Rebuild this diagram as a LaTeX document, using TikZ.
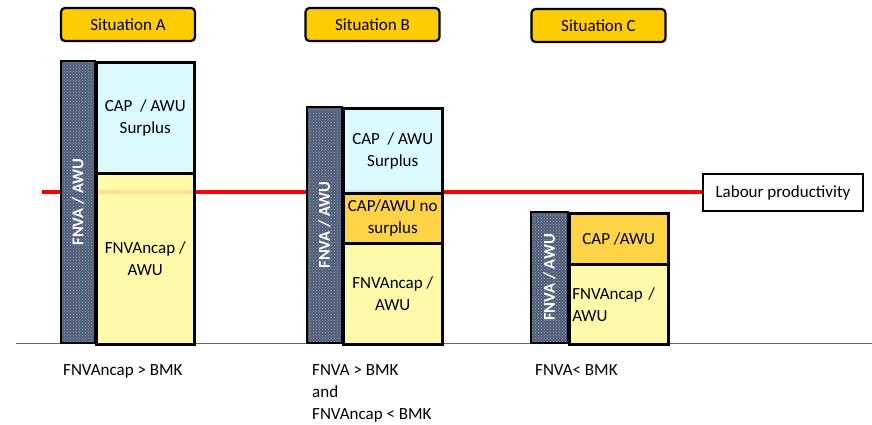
\documentclass[tikz,border=0pt]{standalone}
\usepackage{fontspec}
\setmainfont{Carlito}
\usetikzlibrary{patterns}

\definecolor{sitgold}{RGB}{255,204,0}
\definecolor{fnvagrey}{RGB}{78,94,122}
\definecolor{capblue}{RGB}{214,250,255}
\definecolor{capgold}{RGB}{255,206,50}
\definecolor{ncapyellow}{RGB}{255,250,160}
\definecolor{prodred}{RGB}{255,0,0}

\tikzset{
  situation/.style={draw, line width=2.2pt, rounded corners=4pt, fill=sitgold,
    minimum width=134, minimum height=33, inner sep=0pt},
  fnva/.style={draw, line width=2.5pt, preaction={fill=fnvagrey},
    pattern=crosshatch dots, pattern color=white!45!fnvagrey, rotate=90,
    text=white, font=\fontsize{16.5}{18}\selectfont\bfseries, inner sep=0pt},
  part/.style={draw, line width=2.5pt, fill opacity=0.9, text opacity=1,
    inner sep=0pt, align=center, anchor=north west},
  cond/.style={inner sep=0pt, align=left, anchor=north west}
}

\begin{document}
\begin{tikzpicture}[x=1pt, y=-1pt, font=\fontsize{17}{22}\selectfont]
		\useasboundingbox (0,0) rectangle (872,424);

		% headings
		\node[situation] (sitA) at (128, 24.5) {Situation A};
		\node[situation] (sitB) at (372.5, 24.5) {Situation B};
		\node[situation] (sitC) at (598.5, 25.5) {Situation C};

		% axis and labour productivity
		\coordinate (axl) at (16, 343);
		\coordinate (axr) at (872, 343);
		\draw[gray!80!black, line width=1pt] (axl) -- (axr);
		\node[draw, line width=1.6pt, minimum width=160, minimum height=37, inner sep=0pt] (lab) at (783, 192.5) {Labour productivity};
		\coordinate (redl) at (42, 192);
		\draw[prodred, line width=3.5pt] (redl) -- (redl -| lab.west);

		% situation A
		\node[fnva, minimum width=282, minimum height=34] (fA) at (78, 202) {FNVA / AWU};
		\node[part, fill=capblue, minimum width=98, minimum height=111] (capA) at (95, 61) {CAP\ \ / AWU\\Surplus};
		\node[part, fill=ncapyellow, minimum width=98, minimum height=171] (ncA) at (95, 172) {FNVAncap /\\AWU};

		% situation B
		\node[fnva, minimum width=236, minimum height=35] (fB) at (324.5, 225) {FNVA / AWU};
		\node[part, fill=capblue, minimum width=99, minimum height=85] (capB) at (342, 107) {CAP\ \ / AWU\\Surplus};
		\node[part, fill=capgold, minimum width=99, minimum height=50] (nsB) at (342, 192) {CAP/AWU no\\surplus};
		\node[part, fill=ncapyellow, minimum width=99, minimum height=101] (ncB) at (342, 242) {FNVAncap /\\AWU};

		% situation C
		\node[fnva, minimum width=131, minimum height=37] (fC) at (549.5, 277.5) {FNVA / AWU};
		\node[part, fill=capgold, minimum width=99, minimum height=51] (capC) at (568, 212) {CAP /AWU};
		\node[part, fill=ncapyellow, minimum width=99, minimum height=80, align=left, text width=93] (ncC) at (568, 263) {FNVAncap /\\AWU};

		% conditions
		\node[cond] (cA) at (63, 364) {FNVAncap > BMK};
		\node[cond] (cB) at (312, 364) {FNVA > BMK\\and\\FNVAncap < BMK};
		\node[cond] (cC) at (535, 364) {FNVA< BMK};
	\end{tikzpicture}
\end{document}
